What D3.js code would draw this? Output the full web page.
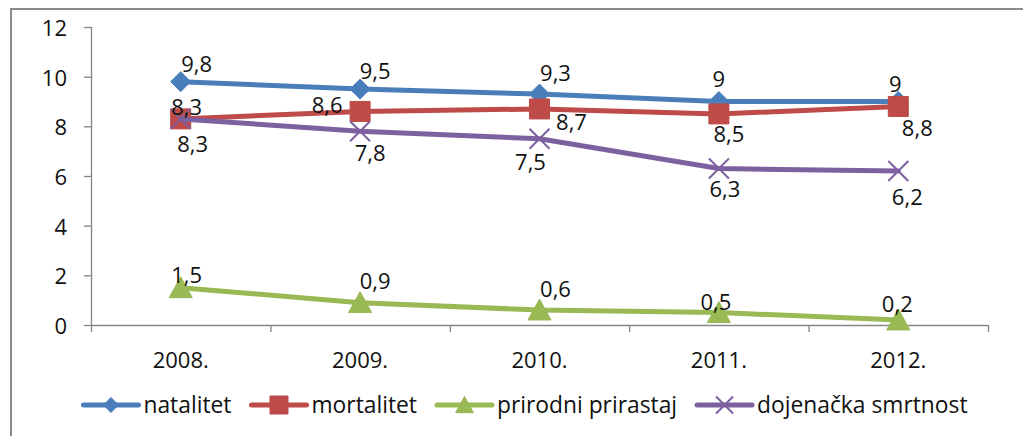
<!DOCTYPE html>
<html><head><meta charset="utf-8">
<script src="https://cdn.jsdelivr.net/npm/d3@7"></script>
<style>
html,body{margin:0;padding:0;background:#fff;}
svg{display:block;font-family:"Open Sans",sans-serif;}
</style></head>
<body>
<svg id="c" width="1023" height="436"></svg>
<script>
const years = ["2008.", "2009.", "2010.", "2011.", "2012."];
const natalitet = [9.8, 9.5, 9.3, 9, 9];
const mortalitet = [8.3, 8.6, 8.7, 8.5, 8.8];
const prirodniPrirastaj = [1.5, 0.9, 0.6, 0.5, 0.2];
const dojenackaSmrtnost = [8.3, 7.8, 7.5, 6.3, 6.2];
const seriesNames = ["natalitet", "mortalitet", "prirodni prirastaj", "dojenačka smrtnost"];
const yTicks = [0, 2, 4, 6, 8, 10, 12];

// label placement (dx from point centre, dy to baseline)
const labelOffsets = [
  [[16,-10],[15,-10],[16,-13],[0,-15],[-3,-10]],
  [[6,-4],[-33,2],[32,21],[10,28],[19,30]],
  [[6,-5],[15,-14],[16,-13],[-3,-3],[-1,-8]],
  [[12,33],[10,30],[-9,31],[6,28],[9,34]]
];

const series = [
  {name: seriesNames[0], values: natalitet, color: "#4A7EBB", marker: "diamond"},
  {name: seriesNames[1], values: mortalitet, color: "#BE4B48", marker: "square"},
  {name: seriesNames[2], values: prirodniPrirastaj, color: "#98B954", marker: "triangle"},
  {name: seriesNames[3], values: dojenackaSmrtnost, color: "#7D60A0", marker: "x"}
];

const svg = d3.select("#c");
const FS = 22;
const LFS = 22.8;

// outer frame
svg.append("rect").attr("x", 11).attr("y", 9).attr("width", 1030).attr("height", 450)
  .attr("fill", "none").attr("stroke", "#8a8a8a").attr("stroke-width", 2);

const L = 91, R = 988, T = 27, B = 325;
const x = d3.scaleBand().domain(years).range([L, R]).padding(0);
const y = d3.scaleLinear().domain([0, 12]).range([B, T]);
const cx = d => x(d) + x.bandwidth() / 2;

// y axis
const ya = svg.append("g").attr("transform", `translate(${L},0)`)
  .call(d3.axisLeft(y).tickValues(yTicks).tickSize(7).tickPadding(17).tickFormat(d3.format("d")));
ya.select(".domain").attr("stroke", "#868686").attr("stroke-width", 1.3).attr("d", `M0.5,${T}V${B}`);
ya.selectAll(".tick line").attr("stroke", "#868686").attr("stroke-width", 1.3);
ya.selectAll(".tick text").attr("font-size", FS).attr("font-family", "Open Sans").attr("fill", "#111").attr("dy", "0.38em");

// x axis
const xg = svg.append("g");
xg.append("line").attr("x1", L).attr("x2", R).attr("y1", B + 0.5).attr("y2", B + 0.5)
  .attr("stroke", "#868686").attr("stroke-width", 1.3);
const edges = years.map(d => x(d)).concat([R]);
xg.selectAll("line.t").data(edges).join("line").attr("class", "t")
  .attr("x1", d => d + 0.5).attr("x2", d => d + 0.5).attr("y1", B).attr("y2", B + 7)
  .attr("stroke", "#868686").attr("stroke-width", 1.3);
xg.selectAll("text").data(years).join("text")
  .attr("x", d => cx(d)).attr("y", 368).attr("text-anchor", "middle")
  .attr("font-size", FS).attr("fill", "#111").text(d => d);

function markerPath(type, s) {
  const h = s / 2;
  if (type === "diamond") return `M0,${-h}L${h},0L0,${h}L${-h},0Z`;
  if (type === "square") return `M${-h},${-h}H${h}V${h}H${-h}Z`;
  if (type === "triangle") return `M0,${-h}L${h*1.05},${h*0.9}H${-h*1.05}Z`;
  return `M${-h},${-h}L${h},${h}M${h},${-h}L${-h},${h}`;
}
function drawMarker(g, type, color, s) {
  const p = g.append("path").attr("d", markerPath(type, s));
  if (type === "x") p.attr("fill", "none").attr("stroke", color).attr("stroke-width", 2);
  else p.attr("fill", color).attr("stroke", color).attr("stroke-width", 1);
}
const sizes = {diamond: 20, square: 20, triangle: 22, x: 20};

const line = d3.line().x((d, i) => cx(years[i])).y(d => y(d));
series.forEach((s, si) => {
  const g = svg.append("g");
  g.append("path").datum(s.values).attr("d", line).attr("fill", "none")
    .attr("stroke", s.color).attr("stroke-width", 5).attr("stroke-linejoin", "round").attr("stroke-linecap", "round");
  s.values.forEach((v, i) => {
    const mg = g.append("g").attr("transform", `translate(${cx(years[i])},${y(v)})`);
    drawMarker(mg, s.marker, s.color, sizes[s.marker]);
  });
});
// data labels on top
series.forEach((s, si) => {
  svg.append("g").selectAll("text").data(s.values).join("text")
    .attr("x", (v, i) => cx(years[i]) + labelOffsets[si][i][0])
    .attr("y", (v, i) => y(v) + labelOffsets[si][i][1])
    .attr("text-anchor", "middle").attr("font-size", FS).attr("fill", "#111")
    .text(v => String(v).replace(".", ","));
});

// legend
const lg = svg.append("g");
const ly = 405, lineW = 55, gapT = 5, gapI = 20;
const legSizes = {diamond: 15, square: 18, triangle: 17, x: 17};
let cur = 0;
const items = series.map(s => {
  const g = lg.append("g");
  g.append("line").attr("x1", 0).attr("x2", lineW).attr("y1", 0).attr("y2", 0)
    .attr("stroke", s.color).attr("stroke-width", 5).attr("stroke-linecap", "round");
  const mg = g.append("g").attr("transform", `translate(${lineW/2},0)`);
  drawMarker(mg, s.marker, s.color, legSizes[s.marker]);
  const t = g.append("text").attr("x", lineW + gapT).attr("y", 8).attr("font-size", LFS).attr("fill", "#111").text(s.name);
  const w = lineW + gapT + t.node().getComputedTextLength();
  const it = {g, x: cur};
  cur += w + gapI;
  return it;
});
const total = cur - gapI;
const start = 525.5 - total / 2;
items.forEach(it => it.g.attr("transform", `translate(${start + it.x},${ly})`));
</script>
</body></html>
